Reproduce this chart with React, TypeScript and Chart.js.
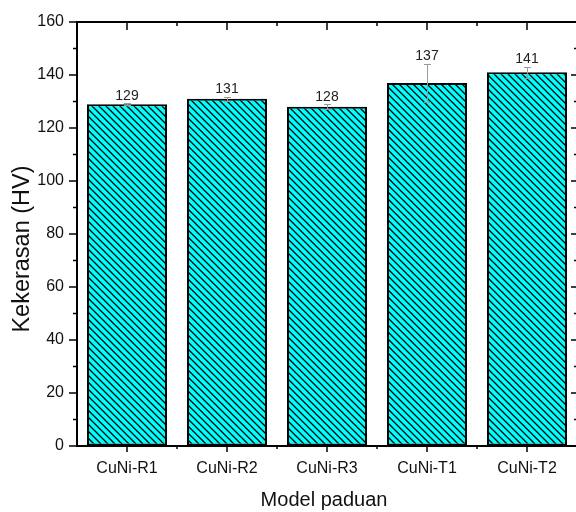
import React, { useEffect, useRef } from "react";
import { Chart, registerables } from "chart.js";

Chart.register(...registerables);

const categories = ["CuNi-R1", "CuNi-R2", "CuNi-R3", "CuNi-T1", "CuNi-T2"];
const hardness = [129, 131, 128, 137, 141];
const errors = [0.3, 0.8, 1.0, 7.2, 2.1];
const yMin = 0;
const yMax = 160;
const yStep = 20;
const xTitle = "Model paduan";
const yTitle = "Kekerasan (HV)";

const FONT = 'Arial, "Liberation Sans", sans-serif';

const axesPlugin = {
  id: "originAxes",
  afterDatasetsDraw(chart: any) {
    const { ctx, chartArea: a, scales } = chart;
    const x = scales.x;
    const y = scales.y;
    ctx.save();

    // error bars
    ctx.strokeStyle = "#9a9a9a";
    ctx.lineWidth = 1;
    hardness.forEach((v, i) => {
      const px = Math.round(x.getPixelForValue(i)) + 0.5;
      const top = Math.round(y.getPixelForValue(v + errors[i])) + 0.5;
      const bot = Math.round(y.getPixelForValue(v - errors[i])) + 0.5;
      ctx.beginPath();
      ctx.moveTo(px, top);
      ctx.lineTo(px, bot);
      ctx.moveTo(px - 3.5, top);
      ctx.lineTo(px + 3.5, top);
      ctx.moveTo(px - 3.5, bot);
      ctx.lineTo(px + 3.5, bot);
      ctx.stroke();
    });

    // value labels
    ctx.fillStyle = "#222";
    ctx.font = `14px ${FONT}`;
    ctx.textAlign = "center";
    ctx.textBaseline = "alphabetic";
    hardness.forEach((v, i) => {
      const px = x.getPixelForValue(i);
      const top = y.getPixelForValue(v + errors[i]);
      ctx.fillText(String(v), px, top - 3.5);
    });

    // frame
    ctx.strokeStyle = "#000";
    ctx.lineWidth = 2;
    ctx.strokeRect(a.left, a.top, a.right - a.left, a.bottom - a.top);

    // ticks
    ctx.lineWidth = 1.5;
    ctx.beginPath();
    for (let v = yMin; v <= yMax; v += yStep / 2) {
      const py = y.getPixelForValue(v);
      const major = v % yStep === 0;
      ctx.moveTo(a.left - (major ? 8 : 4), py);
      ctx.lineTo(a.left, py);
      ctx.moveTo(a.right - (major ? 6 : 3), py);
      ctx.lineTo(a.right, py);
    }
    categories.forEach((_, i) => {
      const px = x.getPixelForValue(i);
      ctx.moveTo(px, a.bottom);
      ctx.lineTo(px, a.bottom + 6);
      ctx.moveTo(px, a.top);
      ctx.lineTo(px, a.top + 8);
      if (i < categories.length - 1) {
        const bx = (px + x.getPixelForValue(i + 1)) / 2;
        ctx.moveTo(bx, a.bottom);
        ctx.lineTo(bx, a.bottom + 3);
        ctx.moveTo(bx, a.top);
        ctx.lineTo(bx, a.top + 4);
      }
    });
    ctx.stroke();

    // axis titles
    ctx.fillStyle = "#111";
    ctx.font = `20px ${FONT}`;
    ctx.textAlign = "center";
    ctx.textBaseline = "alphabetic";
    ctx.fillText(xTitle, (a.left + a.right) / 2 - 3, 506);

    ctx.save();
    ctx.font = `23.5px ${FONT}`;
    ctx.translate(29, (a.top + a.bottom) / 2 + 15);
    ctx.rotate(-Math.PI / 2);
    ctx.fillText(yTitle, 0, 0);
    ctx.restore();

    ctx.restore();
  },
};

export default function App() {
  const ref = useRef<HTMLCanvasElement | null>(null);

  useEffect(() => {
    document.body.style.margin = "0";
    document.body.style.overflow = "hidden";
    const canvas = ref.current!;
    const ctx = canvas.getContext("2d")!;
    const tile = document.createElement("canvas");
    tile.width = 7;
    tile.height = 7;
    const g = tile.getContext("2d")!;
    g.fillStyle = "#00FFFF";
    g.fillRect(0, 0, 7, 7);
    g.strokeStyle = "#000";
    g.lineWidth = 1.25;
    g.beginPath();
    g.moveTo(-1, -1);
    g.lineTo(8, 8);
    g.moveTo(-1, 6);
    g.lineTo(1, 8);
    g.moveTo(6, -1);
    g.lineTo(8, 1);
    g.stroke();
    const pattern = ctx.createPattern(tile, "repeat");

    const chart = new Chart(canvas, {
      type: "bar",
      data: {
        labels: categories,
        datasets: [
          {
            data: hardness,
            backgroundColor: pattern as any,
            borderColor: "#000",
            borderWidth: 2,
            borderSkipped: false,
            barPercentage: 0.8,
            categoryPercentage: 1.0,
          },
        ],
      },
      options: {
        animation: false,
        responsive: false,
        devicePixelRatio: 1,
        layout: { padding: { top: 22, left: 0, right: 3, bottom: 0 } },
        plugins: { legend: { display: false }, tooltip: { enabled: false } },
        scales: {
          x: {
            offset: true,
            grid: {
              display: true,
              offset: false,
              drawOnChartArea: false,
              drawTicks: true,
              tickLength: 6,
              tickColor: "rgba(0,0,0,0)",
            },
            border: { display: false },
            ticks: {
              color: "#111",
              font: { family: FONT, size: 16 },
              padding: 7,
              maxRotation: 0,
            },
            afterFit: (s: any) => {
              s.height = 66;
            },
          },
          y: {
            min: yMin,
            max: yMax,
            grid: {
              display: true,
              drawOnChartArea: false,
              drawTicks: true,
              tickLength: 8,
              tickColor: "rgba(0,0,0,0)",
            },
            border: { display: false },
            ticks: {
              stepSize: yStep,
              color: "#111",
              font: { family: FONT, size: 16 },
              padding: 5,
            },
            afterFit: (s: any) => {
              s.width = 77;
            },
          },
        },
      },
      plugins: [axesPlugin],
    });
    return () => chart.destroy();
  }, []);

  return (
    <div style={{ position: "fixed", left: 0, top: 0, width: 580, height: 512, overflow: "hidden" }}>
      <canvas ref={ref} width={580} height={512} style={{ width: 580, height: 512, display: "block" }} />
    </div>
  );
}
